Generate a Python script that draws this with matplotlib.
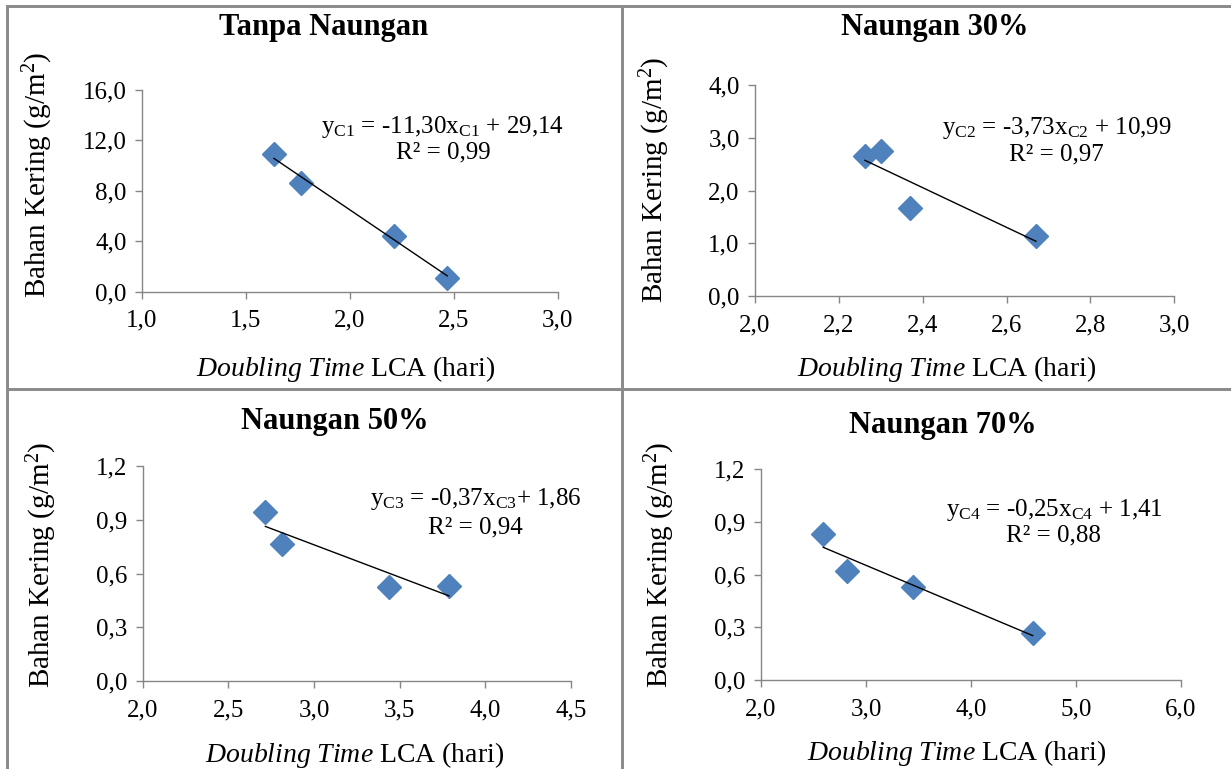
import matplotlib
matplotlib.use("Agg")
import matplotlib.pyplot as plt
import numpy as np
from matplotlib.ticker import FuncFormatter, MultipleLocator
from matplotlib.lines import Line2D

plt.rcParams['font.family'] = ['Liberation Serif', 'DejaVu Serif']
plt.rcParams['mathtext.fontset'] = 'custom'
plt.rcParams['mathtext.rm'] = 'Liberation Serif'
plt.rcParams['mathtext.it'] = 'Liberation Serif:italic'
plt.rcParams['mathtext.bf'] = 'Liberation Serif:bold'

# ---- data ----
titles = ["Tanpa Naungan", "Naungan 30%", "Naungan 50%", "Naungan 70%"]
x_c1 = [1.636, 1.764, 2.214, 2.469]
y_c1 = [10.93, 8.60, 4.44, 1.11]
x_c2 = [2.262, 2.300, 2.369, 2.670]
y_c2 = [2.66, 2.74, 1.67, 1.14]
x_c3 = [2.716, 2.811, 3.438, 3.788]
y_c3 = [0.946, 0.765, 0.524, 0.533]
x_c4 = [2.593, 2.822, 3.451, 4.587]
y_c4 = [0.829, 0.623, 0.527, 0.267]
equations = [r"$\mathrm{y}_{\mathrm{C1}}\text{ = -11,30x}_{\mathrm{C1}}\text{ + 29,14}$",
             r"$\mathrm{y}_{\mathrm{C2}}\text{ = -3,73x}_{\mathrm{C2}}\text{ + 10,99}$",
             r"$\mathrm{y}_{\mathrm{C3}}\text{ = -0,37x}_{\mathrm{C3}}\text{+ 1,86}$",
             r"$\mathrm{y}_{\mathrm{C4}}\text{ = -0,25x}_{\mathrm{C4}}\text{ + 1,41}$"]
r2_texts = ["R² = 0,99", "R² = 0,97", "R² = 0,94", "R² = 0,88"]
x_limits = [(1.0, 3.0), (2.0, 3.0), (2.0, 4.5), (2.0, 6.0)]
x_steps = [0.5, 0.2, 0.5, 1.0]
y_limits = [(0.0, 16.0), (0.0, 4.0), (0.0, 1.2), (0.0, 1.2)]
y_steps = [4.0, 1.0, 0.3, 0.3]
ylabel = "Bahan Kering (g/m$^2$)"
xlabel = r"$\it{Doubling\ Time}$ LCA (hari)"

xs = [x_c1, x_c2, x_c3, x_c4]
ys = [y_c1, y_c2, y_c3, y_c4]

W, H = 1231, 769
fig = plt.figure(figsize=(W / 100, H / 100), dpi=100)

def fx(px):
    return px / W

def fy(py):
    return 1 - py / H

# axes boxes in pixels: left, right, top, bottom
boxes = [(141.7, 557.7, 90.0, 291.7),
         (755.0, 1174.3, 85.0, 296.0),
         (142.7, 571.0, 466.0, 681.0),
         (761.0, 1181.0, 469.3, 680.0)]
title_pos = [(324, 28), (935, 28), (335, 422), (943, 425)]
ylab_pos = [(38, 175), (655, 180), (42, 565), (660, 565)]
xlab_pos = [(346, 369), (947, 369), (355, 755), (957, 753)]
eq_pos = [(443, 127), (1057, 128), (476, 499), (1054, 510)]
r2_pos = [(443, 152), (1056, 154), (475, 527), (1053, 535)]

gray = "#868686"
blue = "#4F81BD"

def comma_fmt(v, pos):
    return f"{v:.1f}".replace(".", ",")

for i in range(4):
    l, r, t, b = boxes[i]
    ax = fig.add_axes([fx(l), fy(b), fx(r) - fx(l), fy(t) - fy(b)])
    x = np.array(xs[i]); y = np.array(ys[i])
    ax.plot(x, y, linestyle="none", marker="D", markersize=12.5,
            color=blue, markeredgecolor=blue, zorder=2)
    k, c = np.polyfit(x, y, 1)
    xx = np.array([x.min(), x.max()])
    ax.plot(xx, k * xx + c, color="black", linewidth=1.0, zorder=3)
    ax.set_xlim(*x_limits[i])
    ax.set_ylim(*y_limits[i])
    ax.xaxis.set_major_locator(MultipleLocator(x_steps[i]))
    ax.yaxis.set_major_locator(MultipleLocator(y_steps[i]))
    ax.xaxis.set_major_formatter(FuncFormatter(comma_fmt))
    ax.yaxis.set_major_formatter(FuncFormatter(comma_fmt))
    for s in ["top", "right"]:
        ax.spines[s].set_visible(False)
    for s in ["left", "bottom"]:
        ax.spines[s].set_color(gray)
        ax.spines[s].set_linewidth(1.0)
    ax.tick_params(axis="both", direction="out", length=5, width=1.0,
                   color=gray, labelsize=18, labelcolor="black", pad=6)
    ax.tick_params(axis="x", pad=8)
    ax.patch.set_alpha(0)
    fig.text(fx(title_pos[i][0]), fy(title_pos[i][1]), titles[i],
             ha="center", va="center", fontsize=22, fontweight="bold")
    fig.text(fx(ylab_pos[i][0]), fy(ylab_pos[i][1]), ylabel, rotation=90,
             ha="center", va="center", fontsize=21)
    fig.text(fx(xlab_pos[i][0]), fy(xlab_pos[i][1]), xlabel,
             ha="center", va="center", fontsize=20)
    fig.text(fx(eq_pos[i][0]), fy(eq_pos[i][1]), equations[i],
             ha="center", va="center", fontsize=18)
    fig.text(fx(r2_pos[i][0]), fy(r2_pos[i][1]), r2_texts[i],
             ha="center", va="center", fontsize=18)

# panel borders
lw = 3.0 * 72 / 100
bc = "#8c8c8c"
fig.add_artist(Line2D([fx(7), fx(7)], [fy(6), 0], transform=fig.transFigure, color=bc, lw=lw))
fig.add_artist(Line2D([fx(7), 1], [fy(6), fy(6)], transform=fig.transFigure, color=bc, lw=lw))
fig.add_artist(Line2D([fx(622), fx(622)], [fy(6), 0], transform=fig.transFigure, color=bc, lw=lw))
fig.add_artist(Line2D([fx(7), 1], [fy(389), fy(389)], transform=fig.transFigure, color=bc, lw=lw))

fig.savefig("out.png", dpi=100)
